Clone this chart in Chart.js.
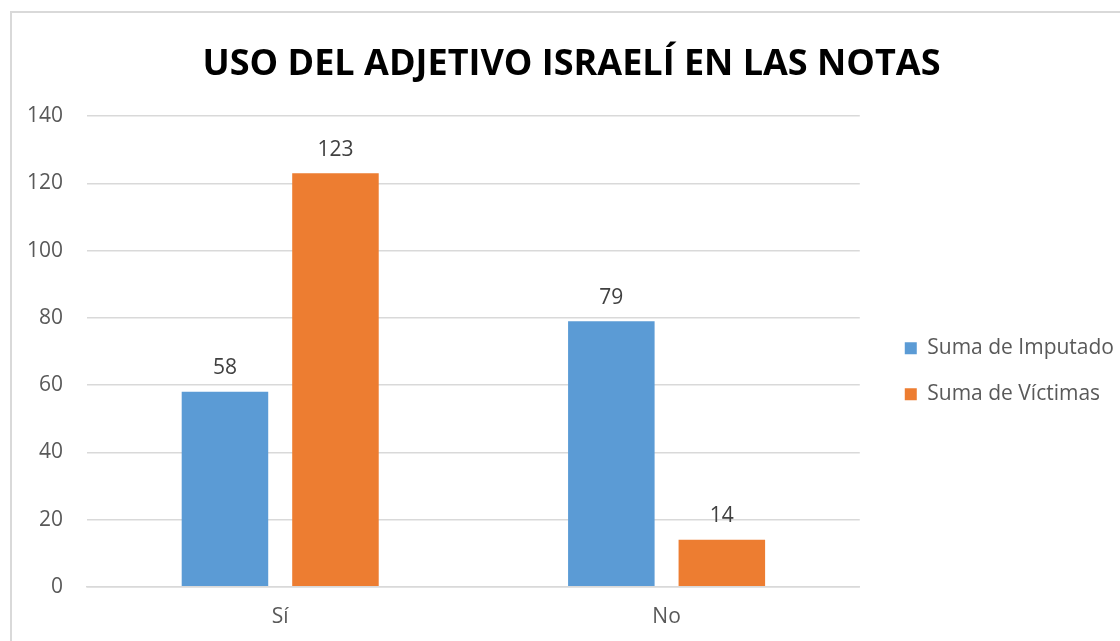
<!DOCTYPE html>
<html>
<head>
<meta charset="utf-8">
<script src="https://cdn.jsdelivr.net/npm/chart.js@4.4.0/dist/chart.umd.min.js"></script>
<style>
	html, body { margin: 0; padding: 0; background: #fff; overflow: hidden; }
	#frame { position: absolute; left: 10px; top: 11px; width: 1120px; height: 641px; border-left: 2px solid #d9d9d9; border-top: 2px solid #d9d9d9; }
	#wrap { position: absolute; left: 0; top: 0; width: 1120px; height: 641px; }
</style>
</head>
<body>
<div id="frame"></div>
<div id="wrap"><canvas id="chart"></canvas></div>
<script>
let categories = ["Sí", "No"];
let imputado = [58, 79];
let victimas = [123, 14];
let yTicks = [0, 20, 40, 60, 80, 100, 120, 140];

const valueLabels = {
	id: 'valueLabels',
	afterDatasetsDraw(chart) {
		let ctx = chart.ctx;
		ctx.save();
		ctx.font = '21px "Open Sans", sans-serif';
		ctx.fillStyle = '#404040';
		ctx.textAlign = 'center';
		ctx.textBaseline = 'bottom';
		chart.data.datasets.forEach(function (ds, i) {
			chart.getDatasetMeta(i).data.forEach(function (bar, j) {
				ctx.fillText(ds.data[j], bar.x, bar.y - 13);
			});
		});
		ctx.restore();
	}
};

// nudge legend and title sideways to sit where the original has them
function nudge(box, dx) {
	let draw = box.draw;
	box.draw = function () {
		this.ctx.save();
		this.ctx.translate(dx, 0);
		draw.apply(this, arguments);
		this.ctx.restore();
	};
}
const shiftBlocks = {
	id: 'shiftBlocks',
	afterInit(chart) {
		nudge(chart.legend, 20);
		nudge(chart.titleBlock, 18);
	}
};

var ctx = document.getElementById('chart').getContext('2d');
let chart = new Chart(ctx, {
	type: 'bar',
	data: {
		labels: categories,
		datasets: [{
			label: 'Suma de Imputado',
			data: imputado,
			backgroundColor: '#5b9bd5'
		}, {
			label: 'Suma de Víctimas',
			data: victimas,
			backgroundColor: '#ed7d31'
		}]
	},
	options: {
		responsive: true,
		maintainAspectRatio: false,
		animation: false,
		categoryPercentage: 0.572,
		barPercentage: 0.783,
		layout: { padding: { left: 3, right: 16, top: 43, bottom: 1 } },
		plugins: {
			title: {
				display: true,
				text: 'USO DEL ADJETIVO ISRAELÍ EN LAS NOTAS',
				color: '#000',
				font: { family: '"Open Sans", sans-serif', size: 36, weight: 'bold' },
				padding: { top: 0, bottom: 30 }
			},
			legend: {
				position: 'right',
				title: { display: true, text: '', font: { size: 12 }, padding: { top: 45, bottom: 0 } },
				labels: {
					color: '#595959',
					font: { family: '"Open Sans", sans-serif', size: 21 },
					boxWidth: 12,
					boxHeight: 12,
					padding: 25
				}
			},
			tooltip: { enabled: false }
		},
		scales: {
			x: {
				grid: { display: false },
				border: { color: '#d9d9d9', width: 1.5 },
				ticks: { color: '#595959', font: { family: '"Open Sans", sans-serif', size: 21 }, padding: 10 }
			},
			y: {
				min: 0,
				max: 140,
				afterBuildTicks: function (axis) { axis.ticks = yTicks.map(function (v) { return { value: v }; }); },
				grid: { color: '#d9d9d9', lineWidth: 1.5, drawTicks: false },
				border: { display: false },
				ticks: { color: '#595959', font: { family: '"Open Sans", sans-serif', size: 21 }, padding: 24 }
			}
		}
	},
	plugins: [valueLabels, shiftBlocks]
});
</script>
</body>
</html>
